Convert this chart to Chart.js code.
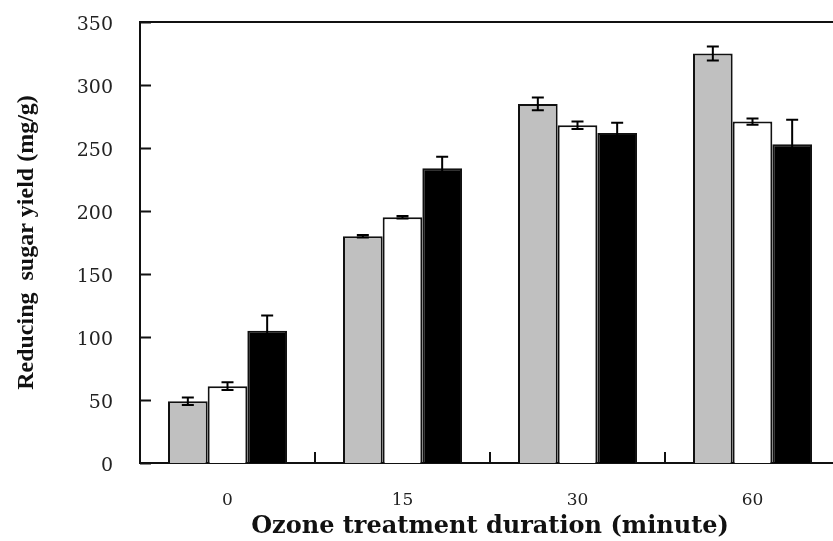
<!DOCTYPE html>
<html>
<head>
<meta charset="utf-8">
<script src="https://cdn.jsdelivr.net/npm/chart.js@4.4.1/dist/chart.umd.min.js"></script>
<style>
  html, body { margin: 0; padding: 0; background: #fff; overflow: hidden; }
  #wrap { width: 850px; height: 541px; position: relative; }
</style>
</head>
<body>
<div id="wrap"><canvas id="sugar_canvas"></canvas></div>
<script>
  //  data
  var durations   = ['0', '15', '30', '60'];
  var gray_vals   = [49, 180, 285, 325];
  var gray_err    = [3, 1, 5, 5.5];
  var white_vals  = [61, 195, 268, 271];
  var white_err   = [3, 1, 3, 2.5];
  var black_vals  = [105, 234, 262, 253];
  var black_err   = [12, 9, 8, 19.5];
  var y_ticks     = [0, 50, 100, 150, 200, 250, 300, 350];

  var line_color = '#111';
  var serif      = '"DejaVu Serif", "Liberation Serif", serif';
  var times      = '"Liberation Serif", serif';

  /**
   * [errorBars draws the +/- error whiskers on top of each bar]
   */
  var errorBars = {
    id: 'errorBars',
    afterDatasetsDraw: function(chart) {
      var ctx = chart.ctx,
          y   = chart.scales.y;

      ctx.save();
      ctx.strokeStyle = '#000';
      ctx.lineWidth   = 2;

      chart.data.datasets.forEach(function(ds, d) {
        var meta = chart.getDatasetMeta(d);

        meta.data.forEach(function(bar, i) {
          var v   = ds.data[i],
              e   = ds.errors[i],
              top = y.getPixelForValue(v + e),
              bot = y.getPixelForValue(v - e),
              cap = 6;

          ctx.beginPath();
          ctx.moveTo(bar.x, top);
          ctx.lineTo(bar.x, bot);
          ctx.moveTo(bar.x - cap, top);
          ctx.lineTo(bar.x + cap, top);
          ctx.moveTo(bar.x - cap, bot);
          ctx.lineTo(bar.x + cap, bot);
          ctx.stroke();
        });
      });
      ctx.restore();
    }
  };

  /**
   * [frameTicks inward tick marks + top / right frame]
   */
  var frameTicks = {
    id: 'frameTicks',
    afterDraw: function(chart) {
      var ctx  = chart.ctx,
          area = chart.chartArea,
          x    = chart.scales.x,
          y    = chart.scales.y,
          len  = 11;

      ctx.save();
      ctx.strokeStyle = line_color;
      ctx.lineWidth   = 2;
      ctx.beginPath();

      //  y ticks pointing in
      y_ticks.forEach(function(t) {
        var py = Math.round(y.getPixelForValue(t)) + 0.5;
        ctx.moveTo(area.left, py);
        ctx.lineTo(area.left + len, py);
      });

      //  x ticks between the groups
      for (var i = 1; i < durations.length; i++) {
        var px = Math.round((x.getPixelForValue(i - 1) + x.getPixelForValue(i)) / 2);
        ctx.moveTo(px, area.bottom);
        ctx.lineTo(px, area.bottom - len);
      }

      //  box
      ctx.moveTo(area.left, area.top);
      ctx.lineTo(area.right, area.top);
      ctx.lineTo(area.right, area.bottom);
      ctx.stroke();
      ctx.restore();
    }
  };

  var ctx = document.getElementById('sugar_canvas').getContext('2d');

  var sugar_chart = new Chart(ctx, {
    type: 'bar',
    data: {
      labels: durations,
      datasets: [
        { label: 'gray',  data: gray_vals,  errors: gray_err,  backgroundColor: '#c0c0c0' },
        { label: 'white', data: white_vals, errors: white_err, backgroundColor: '#ffffff' },
        { label: 'black', data: black_vals, errors: black_err, backgroundColor: '#000000' }
      ]
    },
    options: {
      responsive: true,
      maintainAspectRatio: false,
      animation: false,
      devicePixelRatio: 1,
      layout: { padding: { top: 22, right: 10, left: 0, bottom: 0 } },
      datasets: {
        bar: {
          borderColor: line_color,
          borderWidth: 2,
          categoryPercentage: 0.68,
          barPercentage: 1.0
        }
      },
      plugins: {
        legend: { display: false },
        tooltip: { enabled: false }
      },
      scales: {
        x: {
          afterFit: function(scale) {
            scale.height = 78;
            scale.paddingLeft = 0;
            scale.paddingRight = 0;
          },
          border: { display: true, color: line_color, width: 2 },
          grid: { display: false, drawTicks: false },
          ticks: {
            padding: 27,
            color: '#222',
            font: { family: serif, size: 17 }
          },
          title: {
            display: true,
            text: 'Ozone treatment duration (minute)',
            color: '#111',
            padding: { top: 0, bottom: 0 },
            font: { family: serif, size: 24, weight: 'bold' }
          }
        },
        y: {
          min: 0,
          max: 350,
          afterFit: function(scale) {
            scale.width = 140;
            scale.paddingTop = 0;
            scale.paddingBottom = 0;
          },
          afterBuildTicks: function(scale) {
            scale.ticks = y_ticks.map(function(v) { return { value: v }; });
          },
          border: { display: true, color: line_color, width: 2 },
          grid: { display: false, drawTicks: false },
          ticks: {
            padding: 27,
            labelOffset: 3,
            color: '#222',
            font: { family: serif, size: 19 }
          },
          title: {
            display: true,
            text: 'Reducing  sugar yield (mg/g)',
            color: '#111',
            padding: { top: 12, bottom: 0 },
            font: { family: times, size: 24, weight: 'bold' }
          }
        }
      }
    },
    plugins: [errorBars, frameTicks]
  });
</script>
</body>
</html>
